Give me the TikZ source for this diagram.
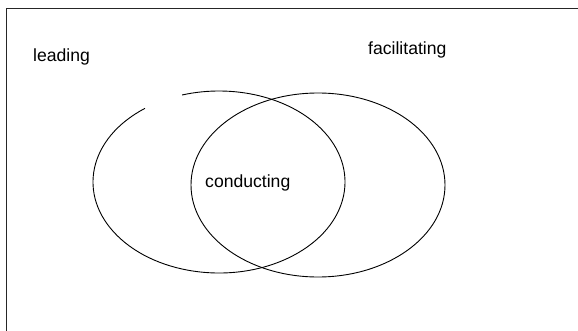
\documentclass[tikz,border=0pt]{standalone}
\usepackage{fontspec}
\setmainfont{Liberation Sans}
\begin{document}
\begin{tikzpicture}[x=1pt,y=1pt,
  lbl/.style={anchor=base west,inner sep=0pt,font=\fontsize{17.6}{20}\selectfont},
  ring/.style={line width=0.9pt,black}]
\useasboundingbox (0,0) rectangle (578,330);
% frame (only left and top edges visible)
\draw[line width=1pt,black!85] (6.5,-5) -- (6.5,321.5) -- (585,321.5);
% centres
\coordinate (cL) at (219,148);
\coordinate (cR) at (318,145);
% left ellipse with a gap at top-left
\draw[ring] ([shift={(126:126 and 91)}]cL) arc[start angle=126,end angle=467,x radius=126,y radius=91];
% right ellipse
\draw[ring] (cR) ellipse[x radius=127,y radius=92];
% labels
\node[lbl] (leading) at (33,268) {leading};
\node[lbl] (facil) at (368,275) {facilitating};
\node[lbl] (cond) at (205,143) {conducting};
\end{tikzpicture}
\end{document}
